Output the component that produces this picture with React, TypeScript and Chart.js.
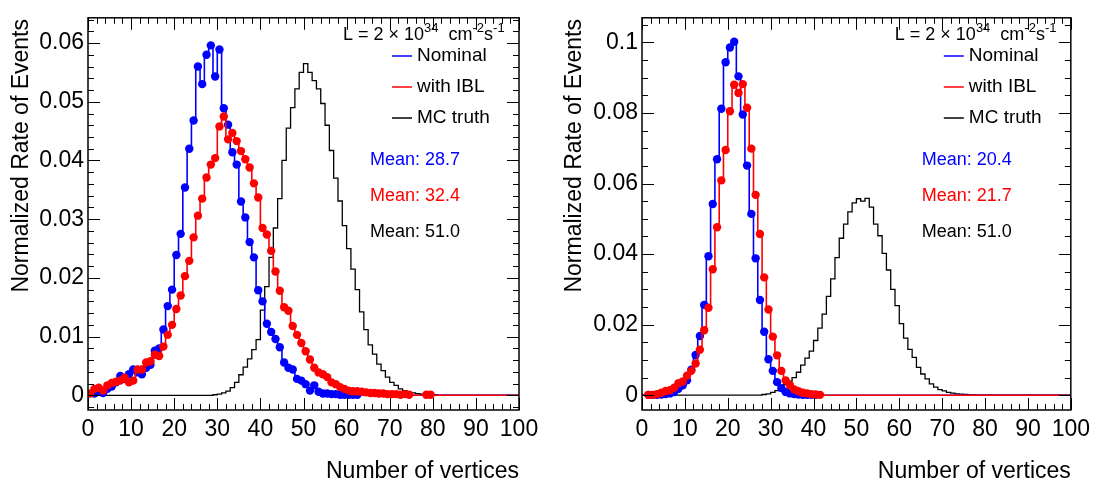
import React, { useEffect, useRef } from "react";
import { Chart, registerables } from "chart.js";

Chart.register(...registerables);

const FONT = '"Liberation Sans", Arial, Helvetica, sans-serif';

// ---------------- Data (bin k covers [k, k+1)) ----------------
const xTickValues = [0, 10, 20, 30, 40, 50, 60, 70, 80, 90, 100];
const xTickLabels = ["0", "10", "20", "30", "40", "50", "60", "70", "80", "90", "100"];

const leftYTickValues = [0, 0.01, 0.02, 0.03, 0.04, 0.05, 0.06];
const leftYTickLabels = ["0", "0.01", "0.02", "0.03", "0.04", "0.05", "0.06"];
const rightYTickValues = [0, 0.02, 0.04, 0.06, 0.08, 0.1];
const rightYTickLabels = ["0", "0.02", "0.04", "0.06", "0.08", "0.1"];

// Left panel
const leftNominalStart = 1;
const leftNominal = [
  0.0003, 0.0006, 0.0004, 0.0011, 0.0015, 0.0022, 0.0033, 0.0028, 0.0036, 0.0044,
  0.0039, 0.0036, 0.0047, 0.0052, 0.0076, 0.008, 0.0112, 0.0152, 0.018, 0.0239,
  0.0275, 0.0354, 0.042, 0.0468, 0.056, 0.053, 0.058, 0.0596, 0.0543, 0.0589,
  0.0489, 0.0461, 0.0414, 0.0393, 0.033, 0.0303, 0.0261, 0.0235, 0.0179, 0.016,
  0.0122, 0.0108, 0.0096, 0.0082, 0.0056, 0.0047, 0.0044, 0.0028, 0.0025, 0.0019,
  0.0008, 0.0017, 0.0006, 0.0003, 0.0003, 0.0002, 0.0002, 0.0001, 0.0001, 0.0001,
  0.0001, 0.0001,
];
const leftIBLStart = 0;
const leftIBL = [
  0.0003, 0.0011, 0.0013, 0.0008, 0.0017, 0.0021, 0.0023, 0.0025, 0.003, 0.0022,
  0.0025, 0.0044, 0.0044, 0.0056, 0.0058, 0.0069, 0.0067, 0.0083, 0.0103, 0.012,
  0.0147, 0.017, 0.0203, 0.0229, 0.0269, 0.0306, 0.0335, 0.0371, 0.0393, 0.0404,
  0.0458, 0.0475, 0.0436, 0.0447, 0.0433, 0.0416, 0.0402, 0.0388, 0.0361, 0.0337,
  0.0285, 0.0274, 0.0246, 0.0211, 0.0178, 0.015, 0.0144, 0.0118, 0.0103, 0.0089,
  0.0075, 0.0061, 0.0047, 0.0039, 0.0036, 0.0031, 0.0022, 0.0019, 0.0014, 0.0011,
  0.0008, 0.0007, 0.0007, 0.0006, 0.0005, 0.0004, 0.0004, 0.0003, 0.0003, 0.0002,
  0.0002, 0.0002, 0.0001, 0.0002, 0.0001, 0, 0, 0, 0.0001, 0.0001,
];
const leftTruthStart = 29;
const leftTruth = [
  0.0001, 0.0002, 0.0004, 0.0007, 0.0013, 0.0022, 0.0035, 0.0048, 0.0062, 0.0078,
  0.0095, 0.0145, 0.0185, 0.0235, 0.0285, 0.0335, 0.04, 0.0455, 0.049, 0.0522,
  0.055, 0.0565, 0.055, 0.0536, 0.0522, 0.0497, 0.046, 0.0417, 0.037, 0.0331,
  0.0289, 0.025, 0.0215, 0.018, 0.0142, 0.0112, 0.0086, 0.007, 0.0053, 0.0042,
  0.0031, 0.0022, 0.0017, 0.0011, 0.0008, 0.0006, 0.0004, 0.0003, 0.0002, 0.0002,
  0.0001, 0.0001,
];

// Right panel
const rightNominalStart = 1;
const rightNominal = [
  0.0001, 0.0001, 0.0001, 0.0002, 0.0003, 0.0005, 0.0009, 0.0018, 0.0028, 0.0042,
  0.0072, 0.0114, 0.0168, 0.0256, 0.0394, 0.0542, 0.0669, 0.0812, 0.0944, 0.0986,
  0.1002, 0.0904, 0.0796, 0.0651, 0.0514, 0.0388, 0.027, 0.018, 0.0102, 0.0069,
  0.0037, 0.002, 0.0009, 0.0005, 0.0003, 0.0002, 0.0001, 0.0001, 0.0001, 0.0001,
];
const rightIBLStart = 1;
const rightIBL = [
  0.0001, 0.0001, 0.0003, 0.0007, 0.0012, 0.0014, 0.0021, 0.0034, 0.0039, 0.0055,
  0.0069, 0.009, 0.0129, 0.0184, 0.0248, 0.0357, 0.0476, 0.0609, 0.0695, 0.0805,
  0.088, 0.0857, 0.0882, 0.0815, 0.0699, 0.0568, 0.0457, 0.0334, 0.0243, 0.0166,
  0.0113, 0.0069, 0.0042, 0.0028, 0.0016, 0.0011, 0.0007, 0.0005, 0.0003, 0.0002,
  0.0001,
];
const rightTruthStart = 28;
const rightTruth = [
  0.0002, 0.0004, 0.0008, 0.0013, 0.002, 0.003, 0.004, 0.005, 0.0065, 0.0085,
  0.0105, 0.0125, 0.0155, 0.019, 0.023, 0.028, 0.033, 0.039, 0.0445, 0.0485,
  0.052, 0.0545, 0.0557, 0.055, 0.0558, 0.0533, 0.0485, 0.0452, 0.0402, 0.0355,
  0.03, 0.0254, 0.0203, 0.0162, 0.013, 0.0107, 0.0079, 0.006, 0.0046, 0.0032,
  0.0023, 0.0016, 0.0012, 0.0008, 0.0006, 0.0004, 0.0003, 0.0002, 0.0001, 0.0001,
];

const seriesNames = ["Nominal", "with IBL", "MC truth"];
const seriesColors = ["#0000ff", "#ff0000", "#000000"];
const leftMeans = ["Mean: 28.7", "Mean: 32.4", "Mean: 51.0"];
const rightMeans = ["Mean: 20.4", "Mean: 21.7", "Mean: 51.0"];

const NBINS = 100;

function histPoints(values: number[], start: number, markers: boolean) {
  const pts: { x: number; y: number; m: boolean }[] = [];
  const valAt = (k: number) => {
    const i = k - start;
    return i >= 0 && i < values.length ? values[i] : 0;
  };
  pts.push({ x: 0, y: valAt(0), m: false });
  for (let k = 0; k < NBINS; k++) {
    const v = valAt(k);
    pts.push({ x: k + 0.5, y: v, m: markers && v > 0 });
  }
  pts.push({ x: NBINS, y: valAt(NBINS - 1), m: false });
  return pts;
}

type PanelCfg = {
  nominal: number[]; nominalStart: number;
  ibl: number[]; iblStart: number;
  truth: number[]; truthStart: number;
  yMin: number; yMax: number;
  yTicks: number[]; yLabels: string[];
  yMinorStep: number; yMinorPerMajor: number;
  yAxisWidth: number; padRight: number;
  means: string[];
  yTitleX: number;
};

const leftCfg: PanelCfg = {
  nominal: leftNominal, nominalStart: leftNominalStart,
  ibl: leftIBL, iblStart: leftIBLStart,
  truth: leftTruth, truthStart: leftTruthStart,
  yMin: -0.0025, yMax: 0.0643,
  yTicks: leftYTickValues, yLabels: leftYTickLabels,
  yMinorStep: 0.002, yMinorPerMajor: 5,
  yAxisWidth: 88, padRight: 29,
  means: leftMeans,
  yTitleX: 22,
};

const rightCfg: PanelCfg = {
  nominal: rightNominal, nominalStart: rightNominalStart,
  ibl: rightIBL, iblStart: rightIBLStart,
  truth: rightTruth, truthStart: rightTruthStart,
  yMin: -0.0042, yMax: 0.107,
  yTicks: rightYTickValues, yLabels: rightYTickLabels,
  yMinorStep: 0.005, yMinorPerMajor: 4,
  yAxisWidth: 94, padRight: 24,
  means: rightMeans,
  yTitleX: 27,
};

function Panel({ cfg }: { cfg: PanelCfg }) {
  const ref = useRef<HTMLCanvasElement>(null);
  useEffect(() => {
    const canvas = ref.current;
    if (!canvas) return;

    const decor = {
      id: "decor",
      afterDatasetsDraw(chart: any) {
        const { ctx, chartArea, scales } = chart;
        const { left, right, top, bottom } = chartArea;
        const xs = scales.x;
        const ys = scales.y;
        ctx.save();
        ctx.strokeStyle = "#000";
        ctx.lineWidth = 1.5;
        ctx.strokeRect(left, top, right - left, bottom - top);
        ctx.lineWidth = 1;
        ctx.beginPath();
        // x ticks (every 2, major every 10)
        for (let i = 0; i <= 50; i++) {
          const px = Math.round(xs.getPixelForValue(i * 2)) + 0.5;
          const len = i % 5 === 0 ? 12 : 6;
          ctx.moveTo(px, bottom);
          ctx.lineTo(px, bottom - len);
          ctx.moveTo(px, top);
          ctx.lineTo(px, top + len);
        }
        // y ticks
        const iMin = Math.ceil(cfg.yMin / cfg.yMinorStep - 1e-6);
        const iMax = Math.floor(cfg.yMax / cfg.yMinorStep + 1e-6);
        for (let i = iMin; i <= iMax; i++) {
          const py = Math.round(ys.getPixelForValue(i * cfg.yMinorStep)) + 0.5;
          const len = i % cfg.yMinorPerMajor === 0 ? 12 : 6;
          ctx.moveTo(left, py);
          ctx.lineTo(left + len, py);
          ctx.moveTo(right, py);
          ctx.lineTo(right - len, py);
        }
        ctx.stroke();

        ctx.fillStyle = "#000";
        // axis titles
        ctx.font = `23px ${FONT}`;
        ctx.textAlign = "right";
        ctx.textBaseline = "middle";
        ctx.fillText("Number of vertices", right, 472);
        ctx.save();
        ctx.translate(cfg.yTitleX, 19);
        ctx.rotate(-Math.PI / 2);
        ctx.textAlign = "right";
        ctx.fillText("Normalized Rate of Events", 0, 0);
        ctx.restore();

        // luminosity label
        ctx.textAlign = "left";
        ctx.textBaseline = "alphabetic";
        const size = 18;
        const segs: [string, boolean][] = [
          ["L = 2 \u00d7 10", false], ["34", true], ["  cm", false], ["-2", true], ["s", false], ["-1", true],
        ];
        let lx = right - 176;
        const ly = 40;
        for (const [t, sup] of segs) {
          ctx.font = `${sup ? 13 : size}px ${FONT}`;
          ctx.fillText(t, lx, sup ? ly - 8 : ly);
          lx += ctx.measureText(t).width;
        }

        // legend
        ctx.font = `19px ${FONT}`;
        ctx.textBaseline = "middle";
        const legY = [56, 87, 118];
        for (let i = 0; i < 3; i++) {
          ctx.strokeStyle = seriesColors[i];
          ctx.lineWidth = 1.5;
          ctx.beginPath();
          ctx.moveTo(right - 127, legY[i]);
          ctx.lineTo(right - 107, legY[i]);
          ctx.stroke();
          ctx.fillStyle = "#000";
          ctx.fillText(seriesNames[i], right - 102, legY[i]);
        }
        // means
        ctx.font = `18px ${FONT}`;
        const meanY = [160, 196, 232];
        for (let i = 0; i < 3; i++) {
          ctx.fillStyle = seriesColors[i];
          ctx.fillText(cfg.means[i], right - 149, meanY[i]);
        }
        ctx.restore();
      },
    };

    const ds = (label: string, values: number[], start: number, color: string, markers: boolean, width: number) => ({
      label,
      data: histPoints(values, start, markers),
      borderColor: color,
      backgroundColor: color,
      borderWidth: width,
      stepped: "middle" as const,
      fill: false,
      pointRadius: (c: any) => (c.raw && c.raw.m ? 4.2 : 0),
      pointBorderWidth: 0,
      pointHoverRadius: 0,
    });

    const chart = new Chart(canvas, {
      type: "line",
      data: {
        datasets: [
          ds(seriesNames[1], cfg.ibl, cfg.iblStart, seriesColors[1], true, 1.6),
          ds(seriesNames[0], cfg.nominal, cfg.nominalStart, seriesColors[0], true, 1.6),
          ds(seriesNames[2], cfg.truth, cfg.truthStart, seriesColors[2], false, 1.3),
        ],
      },
      options: {
        responsive: false,
        animation: false,
        devicePixelRatio: 1,
        layout: { padding: { left: 0, right: cfg.padRight, top: 9, bottom: 0 } },
        plugins: {
          legend: { display: false },
          tooltip: { enabled: false },
          title: { display: false },
        },
        scales: {
          x: {
            type: "linear",
            min: 0,
            max: 100,
            grid: { display: false, drawTicks: false },
            border: { display: false },
            afterBuildTicks: (s: any) => {
              s.ticks = xTickValues.map((v) => ({ value: v }));
            },
            afterFit: (s: any) => {
              s.height = 75;
            },
            ticks: {
              autoSkip: false,
              maxRotation: 0,
              padding: 6,
              color: "#000",
              font: { family: FONT, size: 23 },
              callback: (v: any) => xTickLabels[xTickValues.indexOf(Number(v))] ?? "",
            },
          },
          y: {
            type: "linear",
            min: cfg.yMin,
            max: cfg.yMax,
            grid: { display: false, drawTicks: false },
            border: { display: false },
            afterBuildTicks: (s: any) => {
              s.ticks = cfg.yTicks.map((v) => ({ value: v }));
            },
            afterFit: (s: any) => {
              s.width = cfg.yAxisWidth;
            },
            ticks: {
              autoSkip: false,
              padding: 4,
              color: "#000",
              font: { family: FONT, size: 23 },
              callback: (v: any) => {
                const idx = cfg.yTicks.findIndex((t) => Math.abs(t - Number(v)) < 1e-9);
                return idx >= 0 ? cfg.yLabels[idx] : "";
              },
            },
          },
        },
      } as any,
      plugins: [decor],
    });
    return () => chart.destroy();
  }, [cfg]);
  return (
    <canvas
      ref={ref}
      width={548}
      height={485}
      style={{ display: "block", width: 548, height: 485 }}
    />
  );
}

export default function App() {
  useEffect(() => {
    document.body.style.margin = "0";
    document.body.style.background = "#fff";
  }, []);
  return (
    <div style={{ display: "flex", width: 1096, height: 485, background: "#fff", margin: 0 }}>
      <Panel cfg={leftCfg} />
      <Panel cfg={rightCfg} />
    </div>
  );
}
